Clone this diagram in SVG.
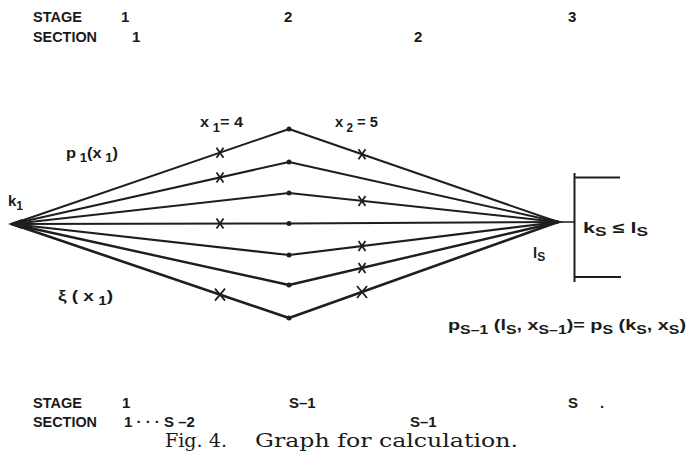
<svg xmlns="http://www.w3.org/2000/svg" width="688" height="469" viewBox="0 0 688 469">
<defs>
<style>
.t{font-family:"Liberation Sans","DejaVu Sans",sans-serif;font-weight:bold;font-size:15px;fill:#1a1a1a}
.s{font-size:12px}
.e{stroke:#1e1e1e;stroke-width:2;fill:none;stroke-linejoin:round;stroke-linecap:round}
.x{stroke:#1e1e1e;stroke-width:1.8;fill:none}
.cap{font-family:"DejaVu Serif","Liberation Serif",serif;font-size:19px;fill:#1a1a1a}
</style>
<path id="cross" d="M-3.5,-5 L3.5,5 M-3.5,5 L3.5,-5"/>
<path id="crossL" d="M-5,-6 L5,6 M-5,6 L5,-6"/>
</defs>
<rect width="688" height="469" fill="#ffffff"/>

<g id="header">
<text class="t" x="33" y="22" textLength="49" lengthAdjust="spacingAndGlyphs">STAGE</text>
<text class="t" x="121" y="22">1</text>
<text class="t" x="284" y="22">2</text>
<text class="t" x="568" y="22">3</text>
<text class="t" x="33" y="42" textLength="64" lengthAdjust="spacingAndGlyphs">SECTION</text>
<text class="t" x="132" y="42">1</text>
<text class="t" x="414" y="42">2</text>
</g>

<g id="connectors">
<polyline class="e" points="12,224 289,129 558,222"/>
<polyline class="e" points="12,224 289,162 558,222"/>
<polyline class="e" points="12,224 289,193 558,222"/>
<polyline class="e" points="12,224 289,223.5 558,222"/>
<polyline class="e" points="12,224 289,255 558,222" style="stroke-width:2.2"/>
<polyline class="e" points="12,224 289,285 558,222" style="stroke-width:2.4"/>
<polyline class="e" points="12,224 289,318 558,222" style="stroke-width:2.6"/>
<line class="e" x1="558" y1="222" x2="574" y2="222" style="stroke-width:1.6"/>
</g>

<g id="crosses">
<use href="#cross" class="x" x="220" y="152.7"/>
<use href="#cross" class="x" x="220" y="177.4"/>
<use href="#cross" class="x" x="220" y="223.6"/>
<use href="#crossL" class="x" x="220" y="294.6"/>
<use href="#cross" class="x" x="362" y="154.2"/>
<use href="#cross" class="x" x="362" y="200.9"/>
<use href="#cross" class="x" x="362" y="246"/>
<use href="#cross" class="x" x="362" y="268"/>
<use href="#crossL" class="x" x="362" y="292"/>
</g>

<g id="n-k1">
<path d="M8,224 L22,219 L22,229 Z" fill="#1e1e1e"/>
<text class="t" x="8" y="206">k<tspan class="s" dy="4">1</tspan></text>
</g>

<g id="n-mid">
<circle cx="289" cy="129" r="2.5" fill="#1e1e1e"/>
<circle cx="289" cy="162" r="2.5" fill="#1e1e1e"/>
<circle cx="289" cy="193" r="2.5" fill="#1e1e1e"/>
<circle cx="289" cy="223.5" r="2.5" fill="#1e1e1e"/>
<circle cx="289" cy="255" r="2.5" fill="#1e1e1e"/>
<circle cx="289" cy="285" r="2.5" fill="#1e1e1e"/>
<circle cx="289" cy="318" r="2.5" fill="#1e1e1e"/>
</g>

<g id="n-ls">
<path d="M564,222 L548,218 L548,226 Z" fill="#1e1e1e"/>
<text class="t" x="533" y="258">l<tspan class="s" dy="3">S</tspan></text>
</g>

<g id="n-bracket">
<path d="M574.5,173 V282 M575,177.5 H620 M575,277 H621" stroke="#1e1e1e" stroke-width="2" fill="none"/>
<text class="t" x="583" y="233" textLength="65" lengthAdjust="spacingAndGlyphs">k<tspan class="s" dy="3">S</tspan><tspan dy="-3"> ≤ l</tspan><tspan class="s" dy="3">S</tspan></text>
</g>

<g id="labels">
<text class="t" x="200" y="127" textLength="43" lengthAdjust="spacingAndGlyphs">x<tspan class="s" dy="5"> 1</tspan><tspan dy="-5">= 4</tspan></text>
<text class="t" x="335" y="127" textLength="43" lengthAdjust="spacingAndGlyphs">x<tspan class="s" dy="5"> 2</tspan><tspan dy="-5"> = 5</tspan></text>
<text class="t" x="66" y="158" textLength="52" lengthAdjust="spacingAndGlyphs">p<tspan class="s" dy="4"> 1</tspan><tspan dy="-4">(x</tspan><tspan class="s" dy="4"> 1</tspan><tspan dy="-4">)</tspan></text>
<text class="t" x="58" y="301" textLength="55" lengthAdjust="spacingAndGlyphs">ξ ( x<tspan class="s" dy="4"> 1</tspan><tspan dy="-4">)</tspan></text>
<text class="t" x="448" y="330" textLength="238" lengthAdjust="spacingAndGlyphs">p<tspan class="s" dy="4">S–1</tspan><tspan dy="-4"> (l</tspan><tspan class="s" dy="4">S</tspan><tspan dy="-4">,  x</tspan><tspan class="s" dy="4">S–1</tspan><tspan dy="-4">)= p</tspan><tspan class="s" dy="4">S</tspan><tspan dy="-4"> (k</tspan><tspan class="s" dy="4">S</tspan><tspan dy="-4">, x</tspan><tspan class="s" dy="4">S</tspan><tspan dy="-4">)</tspan></text>
</g>

<g id="footer">
<text class="t" x="33" y="408" textLength="49" lengthAdjust="spacingAndGlyphs">STAGE</text>
<text class="t" x="122" y="408">1</text>
<text class="t" x="289" y="408">S–1</text>
<text class="t" x="568" y="408">S</text>
<text class="t" x="600" y="408">.</text>
<text class="t" x="33" y="427" textLength="64" lengthAdjust="spacingAndGlyphs">SECTION</text>
<text class="t" x="124" y="427">1 · · · S –2</text>
<text class="t" x="410" y="427">S–1</text>
<text class="cap" x="165" y="447" textLength="62" lengthAdjust="spacingAndGlyphs">Fig. 4.</text>
<text class="cap" x="255" y="447" textLength="263" lengthAdjust="spacingAndGlyphs">Graph for calculation.</text>
</g>
</svg>
